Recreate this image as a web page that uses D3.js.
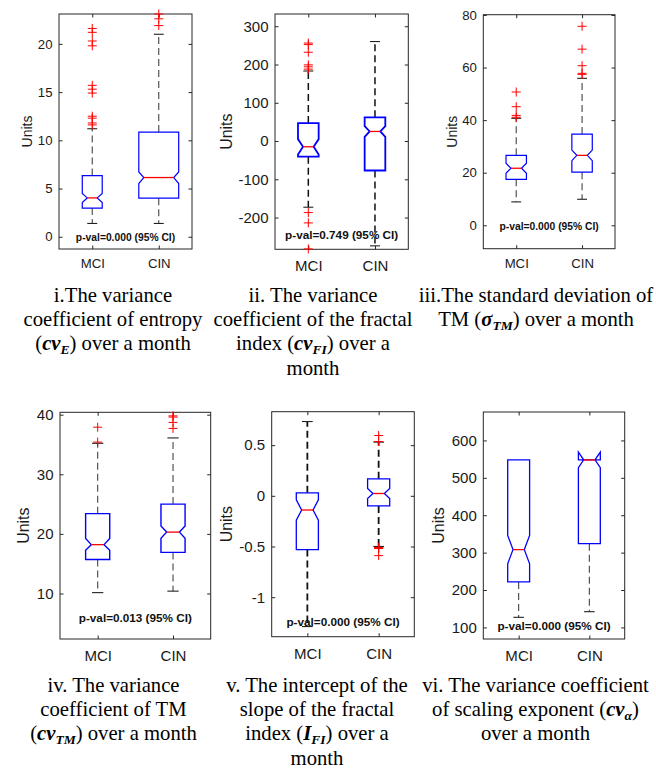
<!DOCTYPE html>
<html><head><meta charset="utf-8">
<script src="https://cdn.jsdelivr.net/npm/d3@7"></script>
<style>body{margin:0;background:#fff} svg{display:block}</style>
</head><body>
<svg id="c" width="656" height="769"></svg>
<script>
// ---------------- DATA ----------------
const categories = ["MCI", "CIN"];
// stats per group: [lowerWhisker, q1, median, q3, upperWhisker, notchLow, notchHigh]
const cvE_stats = [[1.38, 2.97, 4.03, 6.34, 11.2, 3.55, 4.5], [1.38, 4.0, 6.14, 10.86, 21.0, 5.52, 6.72]];
const cvE_outliers = [[11.6, 11.8, 12.3, 12.5, 14.9, 15.3, 15.7, 19.8, 20.3, 21.2, 21.6], [21.9, 22.6, 23.1]];
const cvE_ticks = [0, 5, 10, 15, 20];
const cvE_limits = [-1.27, 23.1];

const cvFI_stats = [[-173, -41, -15, 47, 183, -35, 5], [-274, -77, 25, 62, 260, 11, 39]];
const cvFI_outliers = [[-282, -214, -187, 188, 194, 199, 232, 252, 256], []];
const cvFI_ticks = [-200, -100, 0, 100, 200, 300];
const cvFI_limits = [-283, 332];

const sdTM_stats = [[8.9, 17.5, 21.7, 26.6, 40.7, 19.8, 23.6], [9.9, 20.2, 26.6, 34.7, 55.9, 24.6, 28.6]];
const sdTM_outliers = [[41.1, 41.8, 45.1, 50.7], [57.4, 57.8, 60.7, 67.0, 75.7]];
const sdTM_ticks = [0, 20, 40, 60, 80];
const sdTM_limits = [-8.9, 80.1];

const cvTM_stats = [[10.15, 15.7, 18.2, 23.4, 35.2, 17.25, 19.25], [10.4, 16.9, 20.3, 25.0, 36.1, 19.25, 21.35]];
const cvTM_outliers = [[35.4, 37.9], [37.7, 38.7, 39.6, 39.8]];
const cvTM_ticks = [10, 20, 30, 40];
const cvTM_limits = [2.37, 40.4];

const IFI_stats = [[-1.29, -0.53, -0.14, 0.03, 0.733, -0.24, -0.04], [-0.50, -0.10, 0.023, 0.168, 0.53, -0.027, 0.073]];
const IFI_outliers = [[], [-0.59, -0.52, -0.515, -0.51, 0.536, 0.595]];
const IFI_ticks = [-1, -0.5, 0, 0.5];
const IFI_limits = [-1.39, 0.83];

const cvA_stats = [[127, 221.6, 308, 548, 548, 270, 346], [142, 324, 548, 548, 548, 527, 569]];
const cvA_outliers = [[], []];
const cvA_ticks = [100, 200, 300, 400, 500, 600];
const cvA_limits = [69, 676];

const pvalTexts = ["p-val=0.000 (95% CI)", "p-val=0.749 (95% CI)", "p-val=0.000 (95% CI)",
                   "p-val=0.013 (95% CI)", "p-val=0.000 (95% CI)", "p-val=0.000 (95% CI)"];
const yLabel = "Units";

// caption lines: segments [text, kind] ; kind n = normal, bi = bold italic, sub = bold italic subscript
const caption1 = [[["i.The variance", "n"]], [["coefficient of entropy", "n"]], [["(", "n"], ["cv", "bi"], ["E", "sub"], [") over a month", "n"]]];
const caption2 = [[["ii. The variance", "n"]], [["coefficient of the fractal", "n"]], [["index (", "n"], ["cv", "bi"], ["FI", "sub"], [") over a", "n"]], [["month", "n"]]];
const caption3 = [[["iii.The standard deviation of", "n"]], [["TM (", "n"], ["σ", "bi"], ["TM", "sub"], [") over a month", "n"]]];
const caption4 = [[["iv. The variance", "n"]], [["coefficient of TM", "n"]], [["(", "n"], ["cv", "bi"], ["TM", "sub"], [") over a month", "n"]]];
const caption5 = [[["v. The intercept of the", "n"]], [["slope of the fractal", "n"]], [["index (", "n"], ["I", "bi"], ["FI", "sub"], [") over a", "n"]], [["month", "n"]]];
const caption6 = [[["vi. The variance coefficient", "n"]], [["of scaling exponent (", "n"], ["cv", "bi"], ["α", "sub"], [")", "n"]], [["over a month", "n"]]];

// ---------------- LAYOUT ----------------
const panels = [
  {stats: cvE_stats, out: cvE_outliers, ticks: cvE_ticks, lim: cvE_limits, pv: pvalTexts[0], cap: caption1,
   l: 59, t: 14, r: 192, b: 249, s: 1, ylabOff: 31.5, hw: [0.15, 0.3], boxSW: 1.2, whC: "#444", whW: 1.1, pvY: -0.1, capX: 113, capY: 302},
  {stats: cvFI_stats, out: cvFI_outliers, ticks: cvFI_ticks, lim: cvFI_limits, pv: pvalTexts[1], cap: caption2,
   l: 275, t: 14, r: 408.3, b: 249.3, s: 1.14, ylabOff: 48.3, hw: [0.155, 0.155], boxSW: 1.8, whC: "#111", whW: 1.5, pvY: -246, capX: 313, capY: 302},
  {stats: sdTM_stats, out: sdTM_outliers, ticks: sdTM_ticks, lim: sdTM_limits, pv: pvalTexts[2], cap: caption3,
   l: 483.3, t: 14.7, r: 615, b: 248.7, s: 1, ylabOff: 31.6, hw: [0.155, 0.155], boxSW: 1.2, whC: "#444", whW: 1.1, pvY: -0.5, capX: 536, capY: 302},
  {stats: cvTM_stats, out: cvTM_outliers, ticks: cvTM_ticks, lim: cvTM_limits, pv: pvalTexts[3], cap: caption4,
   l: 60, t: 412.3, r: 210.7, b: 639, s: 1.14, ylabOff: 36.7, hw: [0.16, 0.16], boxSW: 1.4, whC: "#444", whW: 1.1, pvY: 5.84, capX: 113.5, capY: 692},
  {stats: IFI_stats, out: IFI_outliers, ticks: IFI_ticks, lim: IFI_limits, pv: pvalTexts[4], cap: caption5,
   l: 271.7, t: 411.7, r: 414.3, b: 636.7, s: 1.14, ylabOff: 45, hw: [0.155, 0.155], boxSW: 1.3, whC: "#111", whW: 1.8, pvY: -1.24, capX: 317, capY: 692},
  {stats: cvA_stats, out: cvA_outliers, ticks: cvA_ticks, lim: cvA_limits, pv: pvalTexts[5], cap: caption6,
   l: 483.3, t: 412, r: 624.7, b: 639, s: 1.14, ylabOff: 44.5, hw: [0.155, 0.155], boxSW: 1.3, whC: "#444", whW: 1.1, pvY: 105, capX: 535.5, capY: 692}
];
const notchDepth = 0.075, capHalf = 0.075, plusHalf = 4.5, tickLen = 3.5;
const axColor = "#262626";
const sansFont = "'Liberation Sans', Arial, Helvetica, sans-serif";
const serifFont = "'Liberation Serif', 'Times New Roman', Times, serif";

const svg = d3.select("#c");
svg.append("rect").attr("width", 656).attr("height", 769).attr("fill", "#fff");

panels.forEach(p => {
  const g = svg.append("g");
  const x = d3.scaleLinear().domain([0.5, 2.5]).range([p.l, p.r]);
  const y = d3.scaleLinear().domain(p.lim).range([p.b, p.t]);
  const fs = 13.2 * p.s;

  // frame
  g.append("rect").attr("x", p.l).attr("y", p.t).attr("width", p.r - p.l).attr("height", p.b - p.t)
    .attr("fill", "#fff").attr("stroke", axColor).attr("stroke-width", 1);

  // axes
  const styleAxis = sel => {
    sel.select(".domain").remove();
    sel.selectAll(".tick line").attr("stroke", axColor).attr("stroke-width", 1);
    sel.selectAll(".tick text").attr("fill", "#1a1a1a").attr("font-family", sansFont).attr("font-size", fs);
  };
  g.append("g").attr("transform", `translate(${p.l},0)`)
    .call(d3.axisLeft(y).tickValues(p.ticks).tickSizeInner(-tickLen).tickSizeOuter(0).tickPadding(6.5).tickFormat(d => String(d)))
    .call(styleAxis);
  g.append("g").attr("transform", `translate(${p.r},0)`)
    .call(d3.axisRight(y).tickValues(p.ticks).tickSizeInner(-tickLen).tickSizeOuter(0).tickFormat(""))
    .call(styleAxis);
  g.append("g").attr("transform", `translate(0,${p.b})`)
    .call(d3.axisBottom(x).tickValues([1, 2]).tickSizeInner(-tickLen).tickSizeOuter(0)
      .tickPadding(14.5 * p.s - 0.35 * fs).tickFormat(d => categories[d - 1]))
    .call(styleAxis);
  g.append("g").attr("transform", `translate(0,${p.t})`)
    .call(d3.axisTop(x).tickValues([1, 2]).tickSizeInner(-tickLen).tickSizeOuter(0).tickFormat(""))
    .call(styleAxis);

  // y label
  g.append("text").attr("transform", `translate(${p.l - p.ylabOff},${(p.t + p.b) / 2}) rotate(-90)`)
    .attr("text-anchor", "middle").attr("dy", "0.35em")
    .attr("font-family", sansFont).attr("font-size", 14 * p.s).attr("fill", "#1a1a1a").text(yLabel);

  // boxes
  p.stats.forEach((st, i) => {
    const [lo, q1, med, q3, hi, nlo, nhi] = st;
    const cx = i + 1, w = p.hw[i];
    const cl = g.append("g");
    // whiskers
    const wh = [[q3, hi], [q1, lo]];
    wh.forEach(([a, bnd]) => {
      if (a === bnd) return;
      cl.append("line").attr("x1", x(cx)).attr("x2", x(cx)).attr("y1", y(a)).attr("y2", y(bnd))
        .attr("stroke", p.whC).attr("stroke-width", p.whW).attr("stroke-dasharray", "7,4");
      cl.append("line").attr("x1", x(cx - capHalf)).attr("x2", x(cx + capHalf)).attr("y1", y(bnd)).attr("y2", y(bnd))
        .attr("stroke", "#222").attr("stroke-width", 1.1);
    });
    // notched box
    const pts = [
      [cx - w, q1], [cx - w, nlo], [cx - w + notchDepth, med], [cx - w, nhi], [cx - w, q3],
      [cx + w, q3], [cx + w, nhi], [cx + w - notchDepth, med], [cx + w, nlo], [cx + w, q1]
    ];
    cl.append("path").attr("d", d3.line().x(d => x(d[0])).y(d => y(d[1]))(pts) + "Z")
      .attr("fill", "none").attr("stroke", "#0000ff").attr("stroke-width", p.boxSW).attr("stroke-linejoin", "miter");
    // median
    cl.append("line").attr("x1", x(cx - w + notchDepth)).attr("x2", x(cx + w - notchDepth))
      .attr("y1", y(med)).attr("y2", y(med)).attr("stroke", "#ff0000").attr("stroke-width", 1.3);
    // outliers
    cl.selectAll(".o").data(p.out[i]).enter().append("path")
      .attr("d", v => `M${x(cx) - plusHalf},${y(v)}h${2 * plusHalf}M${x(cx)},${y(v) - plusHalf}v${2 * plusHalf}`)
      .attr("stroke", "#ff0000").attr("stroke-width", 1).attr("fill", "none");
  });

  // p-value text
  g.append("text").attr("x", x(1.5)).attr("y", y(p.pvY)).attr("dy", "0.35em").attr("text-anchor", "middle")
    .attr("font-family", sansFont).attr("font-weight", "bold").attr("font-size", 10.3 * p.s).attr("fill", "#111")
    .text(p.pv);

  // caption
  p.cap.forEach((line, li) => {
    const t = svg.append("text").attr("x", p.capX).attr("y", p.capY + li * 24.2).attr("text-anchor", "middle")
      .attr("font-family", serifFont).attr("font-size", 20.7).attr("fill", "#000");
    let shifted = false;
    line.forEach(([txt, kind]) => {
      const ts = t.append("tspan").text(txt);
      if (kind === "bi" || kind === "sub") ts.attr("font-weight", "bold").attr("font-style", "italic");
      if (kind === "sub") { ts.attr("font-size", 13.5).attr("dy", shifted ? 0 : 3.5); shifted = true; }
      else if (shifted) { ts.attr("dy", -3.5); shifted = false; }
    });
  });
});
</script>
</body></html>
